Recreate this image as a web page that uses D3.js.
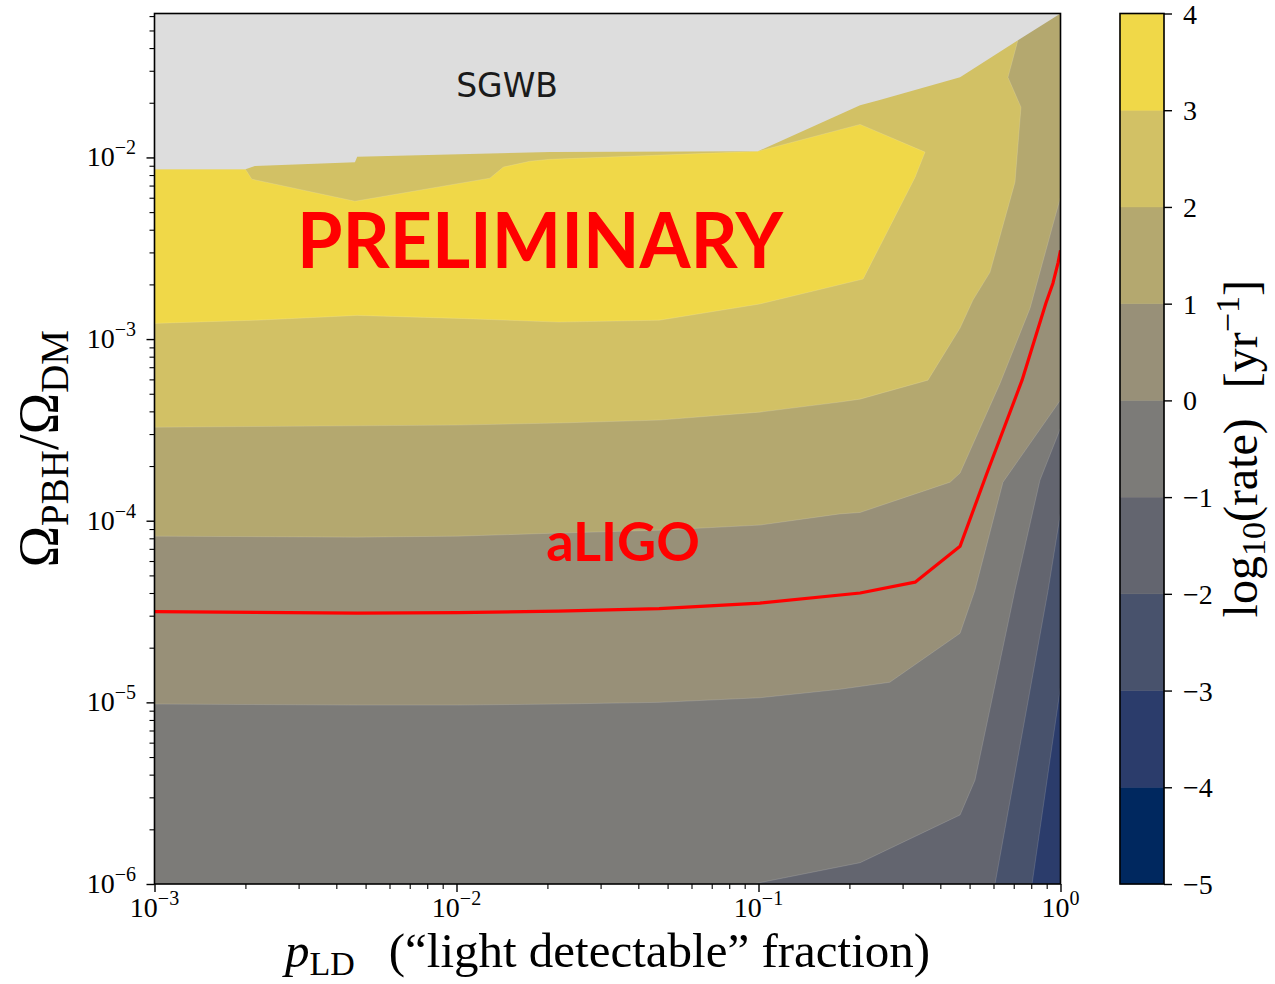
<!DOCTYPE html>
<html>
<head>
<meta charset="utf-8">
<script src="https://cdn.jsdelivr.net/npm/d3@7"></script>
<style>
  body { margin: 0; background: #ffffff; }
  svg { display: block; }
</style>
</head>
<body>
<svg id="chart" width="1275" height="984"></svg>
<script>
// ---- axis ranges ----
const xDomain = [1e-3, 1];
const yDomain = [1e-6, 0.062];

// ---- contour levels of log10(rate) and the colour of each band ----
const levels = [-5, -4, -3, -2, -1, 0, 1, 2, 3, 4];
const bandColors = ["#00285f", "#2b3c6b", "#48526c", "#63656f", "#7c7b78",
                    "#989078", "#b4a86f", "#d2c165", "#f0d848"];
const sgwbColor = "#dddddd";

// ---- contour lines: [p_LD, Omega_PBH/Omega_DM]; region above-left has z >= level ----
const contourM3 = [[0.805, 1e-6], [1, 1.21e-5]];
const contourM2 = [[0.607, 1e-6], [0.910, 4.15e-5], [1, 1.10e-4]];
const contourM1 = [[0.0960, 1e-6], [0.217, 1.31e-6], [0.465, 2.40e-6], [0.521, 3.73e-6],
                   [0.707, 4.15e-5], [0.855, 1.67e-4], [1, 3.23e-4]];
const contour0 = [[1e-3, 9.79e-6], [4.69e-3, 9.66e-6], [1.01e-2, 9.66e-6], [2.17e-2, 9.79e-6],
                  [4.69e-2, 1.00e-5], [0.101, 1.06e-5], [0.186, 1.18e-5], [0.272, 1.29e-5],
                  [0.465, 2.40e-5], [0.521, 4.15e-5], [0.645, 1.63e-4], [1, 4.62e-4]];
const contour1 = [[1e-3, 8.22e-5], [4.69e-3, 8.12e-5], [1.01e-2, 8.22e-5], [2.17e-2, 8.55e-5],
                  [4.69e-2, 8.87e-5], [0.101, 9.46e-5], [0.186, 1.09e-4], [0.217, 1.11e-4],
                  [0.431, 1.63e-4], [0.465, 1.83e-4], [0.631, 5.71e-4], [0.793, 1.48e-3],
                  [1, 6.04e-3]];
const contour2 = [[1e-3, 3.27e-4], [1.01e-2, 3.36e-4], [2.17e-2, 3.45e-4], [4.69e-2, 3.58e-4],
                  [0.101, 3.96e-4], [0.186, 4.50e-4], [0.217, 4.67e-4], [0.364, 5.94e-4],
                  [0.465, 1.15e-3], [0.513, 1.64e-3], [0.584, 2.33e-3], [0.707, 7.31e-3],
                  [0.740, 1.89e-2], [0.670, 2.76e-2], [0.723, 4.42e-2], [0.723, 0.062]];
// closed island of the highest band
const contour3 = [[1e-3, 1.22e-3], [2.17e-3, 1.27e-3], [4.69e-3, 1.35e-3], [1.01e-2, 1.30e-3],
                  [2.17e-2, 1.24e-3], [4.69e-2, 1.27e-3], [0.101, 1.56e-3], [0.222, 2.14e-3],
                  [0.330, 7.78e-3], [0.356, 1.07e-2], [0.217, 1.52e-2], [9.95e-2, 1.08e-2],
                  [2.04e-2, 9.77e-3], [1.75e-2, 9.53e-3], [1.43e-2, 8.85e-3], [1.29e-2, 7.69e-3],
                  [4.61e-3, 5.74e-3], [2.10e-3, 7.59e-3], [2.00e-3, 8.61e-3], [1e-3, 8.61e-3]];

// lower edge of the SGWB-excluded region
const sgwbEdge = [[1e-3, 8.61e-3], [2.00e-3, 8.61e-3], [2.15e-3, 8.96e-3], [4.61e-3, 9.42e-3],
                  [4.69e-3, 1.01e-2], [2.04e-2, 1.07e-2], [9.95e-2, 1.08e-2], [0.217, 1.94e-2],
                  [0.252, 2.07e-2], [0.465, 2.76e-2], [0.723, 4.42e-2], [1, 0.062]];

// aLIGO sensitivity curve
const aligoCurve = [[1e-3, 3.16e-5], [4.69e-3, 3.10e-5], [1.01e-2, 3.12e-5], [2.17e-2, 3.18e-5],
                    [4.69e-2, 3.28e-5], [0.101, 3.52e-5], [0.217, 4.00e-5], [0.330, 4.59e-5],
                    [0.465, 7.24e-5], [0.571, 1.83e-4], [0.746, 5.94e-4], [0.895, 1.58e-3],
                    [0.944, 2.03e-3], [0.981, 2.62e-3], [1, 3.08e-3]];

// ---- ticks ----
const xMajorTicks = [1e-3, 1e-2, 1e-1, 1];
const xTickExps = [-3, -2, -1, 0];
const yMajorTicks = [1e-6, 1e-5, 1e-4, 1e-3, 1e-2];
const yTickExps = [-6, -5, -4, -3, -2];
const cbarTicks = [4, 3, 2, 1, 0, -1, -2, -3, -4, -5];

// ---- annotations: [text, p_LD, Omega] (anchor at text centre / baseline) ----
const sgwbLabel = ["SGWB", 0.0147, 0.0214];
const prelimLabel = ["PRELIMINARY", 0.0189, 2.45e-3];
const aligoLabel = ["aLIGO", 0.0356, 6.0e-5];

// ================= drawing =================
const m = { left: 154.5, right: 1060.5, top: 13.5, bottom: 884 };
const serif = "'Liberation Serif', 'DejaVu Serif', serif";

const x = d3.scaleLog().domain(xDomain).range([m.left, m.right]);
const y = d3.scaleLog().domain(yDomain).range([m.bottom, m.top]);
const svg = d3.select("#chart");

svg.append("defs").append("clipPath").attr("id", "plotClip")
  .append("rect").attr("x", m.left).attr("y", m.top)
  .attr("width", m.right - m.left).attr("height", m.bottom - m.top);

const plot = svg.append("g").attr("clip-path", "url(#plotClip)");
const line = d3.line().x(d => x(d[0])).y(d => y(d[1]));
const bandColor = lv => bandColors[levels.indexOf(lv)];

// close a contour line into the region lying above / left of it
function regionAbove(curve) {
  const [x0, x1] = xDomain, [y0, y1] = yDomain;
  const pts = curve.slice();
  const last = pts[pts.length - 1];
  if (last[0] >= x1) pts.push([x1, y1]);
  pts.push([x0, y1]);
  if (pts[0][1] <= y0) pts.push([x0, y0]);
  return pts;
}

// lowest band everywhere, then each level painted on top
plot.append("rect")
  .attr("x", m.left).attr("y", m.top)
  .attr("width", m.right - m.left).attr("height", m.bottom - m.top)
  .attr("fill", bandColor(-4));

const filledLevels = [
  [-3, contourM3], [-2, contourM2], [-1, contourM1],
  [0, contour0], [1, contour1], [2, contour2]
];
filledLevels.forEach(([lv, c]) => {
  plot.append("path")
    .attr("d", line(regionAbove(c)) + "Z")
    .attr("fill", bandColor(lv))
    .attr("stroke", "rgba(255,255,255,0.18)")
    .attr("stroke-width", 0.8);
});
plot.append("path")
  .attr("d", line(contour3) + "Z")
  .attr("fill", bandColor(3))
  .attr("stroke", "rgba(255,255,255,0.18)")
  .attr("stroke-width", 0.8);

// SGWB excluded region
plot.append("path")
  .attr("d", line(sgwbEdge.concat([[xDomain[0], yDomain[1]]])) + "Z")
  .attr("fill", sgwbColor);

// aLIGO curve
plot.append("path")
  .attr("d", line(aligoCurve))
  .attr("fill", "none")
  .attr("stroke", "#ff0000")
  .attr("stroke-width", 3.2)
  .attr("stroke-linejoin", "round");

// annotations
svg.append("text")
  .attr("x", x(sgwbLabel[1])).attr("y", y(sgwbLabel[2]))
  .attr("text-anchor", "middle")
  .attr("font-family", "'DejaVu Sans', sans-serif")
  .attr("font-size", 33).attr("fill", "#1a1a1a")
  .text(sgwbLabel[0]);

svg.append("text")
  .attr("x", x(prelimLabel[1])).attr("y", y(prelimLabel[2]))
  .attr("text-anchor", "middle")
  .attr("font-family", "Lato, 'Open Sans', sans-serif").attr("font-weight", 700)
  .attr("font-size", 77).attr("fill", "#ff0000")
  .attr("textLength", 486).attr("lengthAdjust", "spacingAndGlyphs")
  .text(prelimLabel[0]);

svg.append("text")
  .attr("x", x(aligoLabel[1])).attr("y", y(aligoLabel[2]))
  .attr("text-anchor", "middle")
  .attr("font-family", "Lato, 'Open Sans', sans-serif").attr("font-weight", 700)
  .attr("font-size", 54).attr("fill", "#ff0000")
  .text(aligoLabel[0]);

// ---- axes ----
const minorX = x.ticks().filter(v => !xMajorTicks.some(t => Math.abs(t - v) / t < 1e-6));
const minorY = y.ticks().filter(v => !yMajorTicks.some(t => Math.abs(t - v) / t < 1e-6));

function styleAxis(g, w) {
  g.select(".domain").remove();
  g.selectAll(".tick line").attr("stroke", "#000").attr("stroke-width", w);
  g.selectAll(".tick text").remove();
}
svg.append("g").attr("transform", `translate(0,${m.bottom})`)
  .call(d3.axisBottom(x).tickValues(xMajorTicks).tickSize(8).tickFormat(""))
  .call(g => styleAxis(g, 1.4));
svg.append("g").attr("transform", `translate(0,${m.bottom})`)
  .call(d3.axisBottom(x).tickValues(minorX).tickSize(5).tickFormat(""))
  .call(g => styleAxis(g, 1.1));
svg.append("g").attr("transform", `translate(${m.left},0)`)
  .call(d3.axisLeft(y).tickValues(yMajorTicks).tickSize(8).tickFormat(""))
  .call(g => styleAxis(g, 1.4));
svg.append("g").attr("transform", `translate(${m.left},0)`)
  .call(d3.axisLeft(y).tickValues(minorY).tickSize(5).tickFormat(""))
  .call(g => styleAxis(g, 1.1));

const minus = "\u2212";
function powerLabel(sel, e) {
  sel.append("tspan").text("10");
  sel.append("tspan").attr("dy", -12).attr("font-size", 20)
    .text(e < 0 ? minus + (-e) : String(e));
}
xMajorTicks.forEach((t, i) => {
  svg.append("text")
    .attr("x", x(t)).attr("y", 917)
    .attr("text-anchor", "middle")
    .attr("font-family", serif).attr("font-size", 28).attr("fill", "#000")
    .call(s => powerLabel(s, xTickExps[i]));
});
yMajorTicks.forEach((t, i) => {
  svg.append("text")
    .attr("x", 136).attr("y", y(t) + 9)
    .attr("text-anchor", "end")
    .attr("font-family", serif).attr("font-size", 28).attr("fill", "#000")
    .call(s => powerLabel(s, yTickExps[i]));
});

// plot frame
svg.append("rect")
  .attr("x", m.left).attr("y", m.top)
  .attr("width", m.right - m.left).attr("height", m.bottom - m.top)
  .attr("fill", "none").attr("stroke", "#000").attr("stroke-width", 1.6);

// ---- axis titles ----
const xTitle = svg.append("text")
  .attr("x", (m.left + m.right) / 2).attr("y", 967)
  .attr("text-anchor", "middle")
  .attr("font-family", serif).attr("font-size", 49).attr("fill", "#000");
xTitle.append("tspan").attr("font-style", "italic").text("p");
xTitle.append("tspan").attr("font-size", 34).attr("dy", 8).text("LD");
xTitle.append("tspan").attr("dy", -8).attr("dx", 34).text("(\u201Clight detectable\u201D fraction)");

const yTitle = svg.append("text")
  .attr("transform", `translate(58,${(m.top + m.bottom) / 2}) rotate(-90)`)
  .attr("text-anchor", "middle")
  .attr("font-family", serif).attr("font-size", 56).attr("fill", "#000");
yTitle.append("tspan").text("\u03A9");
yTitle.append("tspan").attr("font-size", 39).attr("dy", 10).text("PBH");
yTitle.append("tspan").attr("dy", -10).text("/\u03A9");
yTitle.append("tspan").attr("font-size", 39).attr("dy", 10).text("DM");

// ---- colour bar ----
const cb = { left: 1120, right: 1164 };
const cy = d3.scaleLinear().domain([levels[0], levels[levels.length - 1]]).range([m.bottom, m.top]);
bandColors.forEach((c, i) => {
  svg.append("rect")
    .attr("x", cb.left).attr("y", cy(levels[i + 1]))
    .attr("width", cb.right - cb.left).attr("height", cy(levels[i]) - cy(levels[i + 1]))
    .attr("fill", c).attr("stroke", c).attr("stroke-width", 0.5);
});
svg.append("rect")
  .attr("x", cb.left).attr("y", m.top)
  .attr("width", cb.right - cb.left).attr("height", m.bottom - m.top)
  .attr("fill", "none").attr("stroke", "#000").attr("stroke-width", 1.6);
svg.append("g").attr("transform", `translate(${cb.right},0)`)
  .call(d3.axisRight(cy).tickValues(cbarTicks).tickSize(8).tickFormat(""))
  .call(g => styleAxis(g, 1.4));
cbarTicks.forEach(t => {
  svg.append("text")
    .attr("x", 1183).attr("y", cy(t) + 10)
    .attr("font-family", serif).attr("font-size", 28).attr("fill", "#000")
    .text(t < 0 ? minus + (-t) : String(t));
});

const cTitle = svg.append("text")
  .attr("transform", `translate(1257,${(m.top + m.bottom) / 2}) rotate(-90)`)
  .attr("text-anchor", "middle")
  .attr("font-family", serif).attr("font-size", 48).attr("fill", "#000");
cTitle.append("tspan").text("log");
cTitle.append("tspan").attr("font-size", 34).attr("dy", 8).text("10");
cTitle.append("tspan").attr("dy", -8).text("(rate)");
cTitle.append("tspan").attr("dx", 30).text("[yr");
cTitle.append("tspan").attr("font-size", 34).attr("dy", -18).text(minus + "1");
cTitle.append("tspan").attr("dy", 18).text("]");
</script>
</body>
</html>
